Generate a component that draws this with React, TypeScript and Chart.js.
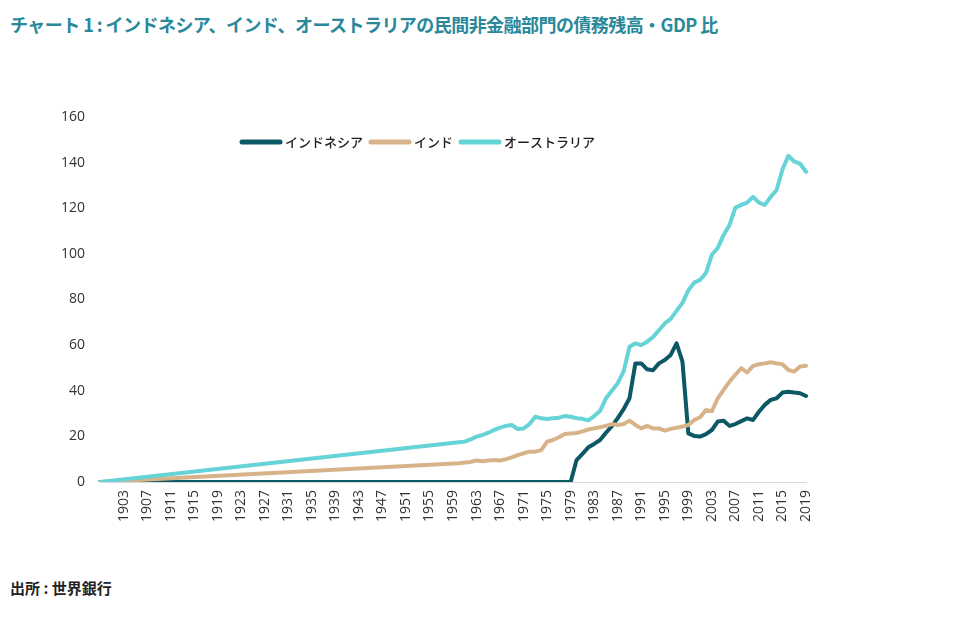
import React, { useEffect, useRef } from "react";
import { Chart, registerables } from "chart.js";

Chart.register(...registerables);

// Categories: years 1899–2019 (tick labels every 4 years from 1903)
const FIRST_YEAR = 1899;
const LAST_YEAR = 2019;
const years: string[] = [];
for (let y = FIRST_YEAR; y <= LAST_YEAR; y++) years.push(String(y));
const labelFromYear = 1903;
const labelEvery = 4;

const seriesNames = ["インドネシア", "インド", "オーストラリア"];
const seriesColors = ["#0d5866", "#d8b38a", "#66d3d6"];

// value shown for the first category (1899) for all series
const startValue = 0;

// Indonesia, 1979–2019
const indonesiaStart = 1979;
const indonesia = [
  0, 9.6, 12.3, 15.2, 16.7, 18.4, 21.6, 24.5, 28.0, 31.9,
  36.7, 52.0, 52.0, 49.4, 49.0, 52.0, 53.5, 55.7, 60.8, 52.8,
  21.3, 20.2, 19.9, 21.0, 22.8, 26.5, 26.9, 24.6, 25.4, 26.7,
  27.9, 27.2, 30.8, 33.8, 36.0, 36.7, 39.2, 39.6, 39.2, 38.9,
  37.7,
];

// India, 1960–2019
const indiaStart = 1960;
const india = [
  8.2, 8.5, 8.8, 9.4, 9.1, 9.4, 9.6, 9.4, 10.0, 10.8,
  11.8, 12.6, 13.3, 13.3, 14.0, 17.7, 18.4, 19.6, 21.0, 21.3,
  21.5, 22.2, 23.0, 23.5, 24.0, 24.6, 25.4, 25.0, 25.4, 26.9,
  25.0, 23.5, 24.6, 23.5, 23.5, 22.5, 23.3, 23.8, 24.3, 25.0,
  27.2, 28.4, 31.6, 31.0, 36.7, 40.4, 44.0, 47.0, 49.9, 48.0,
  50.9, 51.6, 52.0, 52.5, 52.0, 51.6, 49.1, 48.4, 50.6, 51.0,
];

// Australia, 1960–2019
const australiaStart = 1960;
const australia = [
  17.4, 17.7, 18.7, 19.9, 20.6, 21.6, 22.8, 23.8, 24.6, 25.0,
  23.2, 23.5, 25.4, 28.6, 27.9, 27.6, 27.9, 28.2, 28.9, 28.6,
  28.0, 27.7, 27.0, 28.9, 31.2, 36.7, 40.0, 43.3, 48.5, 59.3,
  60.8, 60.0, 61.5, 63.5, 66.5, 69.5, 71.5, 75.0, 78.5, 84.0,
  87.4, 88.6, 91.6, 99.6, 102.6, 108.3, 112.7, 120.3, 121.5, 122.5,
  125.0, 122.5, 121.5, 125.0, 128.0, 137.0, 143.0, 140.5, 139.5, 136.0,
];

const Y_MIN = 0;
const Y_MAX = 160;
const Y_STEP = 20;

function buildSeries(start: number, values: number[]): (number | null)[] {
  return years.map((y) => {
    const yr = Number(y);
    if (yr === FIRST_YEAR) return startValue;
    if (yr >= start) return values[yr - start];
    return null;
  });
}

const TICK_FONT = { family: '"Open Sans", "Noto Sans", sans-serif', size: 14 };
const TICK_COLOR = "#333333";

const legendPlugin = {
  id: "customLegend",
  afterDraw(chart: any) {
    const ctx = chart.ctx as CanvasRenderingContext2D;
    ctx.save();
    ctx.font = '500 13px "Noto Sans CJK JP", sans-serif';
    ctx.textBaseline = "middle";
    ctx.textAlign = "left";
    let x = 232;
    const y = 74;
    chart.data.datasets.forEach((ds: any) => {
      ctx.strokeStyle = ds.borderColor;
      ctx.lineWidth = 5;
      ctx.lineCap = "round";
      ctx.beginPath();
      ctx.moveTo(x + 2, y);
      ctx.lineTo(x + 40, y);
      ctx.stroke();
      x += 45;
      ctx.fillStyle = "#1e1e1e";
      ctx.fillText(ds.label, x, y);
      x += ctx.measureText(ds.label).width + 6;
    });
    ctx.restore();
  },
};

export default function App() {
  const canvasRef = useRef<HTMLCanvasElement | null>(null);

  useEffect(() => {
    if (!canvasRef.current) return;
    const data = [
      buildSeries(indonesiaStart, indonesia),
      buildSeries(indiaStart, india),
      buildSeries(australiaStart, australia),
    ];
    const chart = new Chart(canvasRef.current, {
      type: "line",
      data: {
        labels: years,
        datasets: seriesNames.map((name, i) => ({
          label: name,
          data: data[i],
          borderColor: seriesColors[i],
          backgroundColor: seriesColors[i],
          borderWidth: 4,
          pointRadius: 0,
          pointHoverRadius: 0,
          tension: 0,
          spanGaps: true,
          fill: false,
          borderJoinStyle: "round" as const,
          borderCapStyle: "round" as const,
          order: seriesNames.length - i,
        })),
      },
      options: {
        animation: false,
        responsive: false,
        devicePixelRatio: 1,
        layout: { padding: { left: 0, right: 145, top: 49, bottom: 0 } },
        plugins: {
          legend: { display: false },
          title: { display: false },
          tooltip: { enabled: false },
        },
        scales: {
          x: {
            type: "category",
            offset: false,
            grid: { display: false, drawTicks: false },
            border: { display: true, color: "#d9d9d9", width: 1 },
            ticks: {
              autoSkip: false,
              maxRotation: 90,
              minRotation: 90,
              padding: 8,
              color: TICK_COLOR,
              font: TICK_FONT,
              callback: function (this: any, _v: any, index: number) {
                const yr = Number(years[index]);
                return yr >= labelFromYear && (yr - labelFromYear) % labelEvery === 0
                  ? String(yr)
                  : "";
              },
            },
            afterFit: (scale: any) => {
              scale.height = 66;
            },
          },
          y: {
            min: Y_MIN,
            max: Y_MAX,
            grid: { display: false, drawTicks: false },
            border: { display: false },
            ticks: {
              stepSize: Y_STEP,
              padding: 15,
              color: TICK_COLOR,
              font: TICK_FONT,
            },
            afterFit: (scale: any) => {
              scale.width = 92;
            },
          },
        },
      },
      plugins: [legendPlugin],
    });
    return () => chart.destroy();
  }, []);

  return (
    <div style={{ position: "relative", width: 943, height: 605, background: "#fff" }}>
      <div
        style={{
          position: "absolute",
          left: 2,
          top: 7,
          fontFamily: '"Noto Sans CJK JP", sans-serif',
          fontWeight: 700,
          fontSize: 18,
          lineHeight: "18px",
          color: "#29889a",
          whiteSpace: "nowrap",
          letterSpacing: -0.55,
        }}
      >
        チャート 1 : インドネシア、インド、オーストラリアの民間非金融部門の債務残高・GDP 比
      </div>
      <canvas
        ref={canvasRef}
        width={943}
        height={480}
        style={{ position: "absolute", left: 0, top: 60, width: 943, height: 480 }}
      />
      <div
        style={{
          position: "absolute",
          left: 2,
          top: 572,
          fontFamily: '"Noto Sans CJK JP", sans-serif',
          fontWeight: 700,
          fontSize: 15,
          lineHeight: "15px",
          color: "#222",
          whiteSpace: "nowrap",
        }}
      >
        出所 : 世界銀行
      </div>
    </div>
  );
}
